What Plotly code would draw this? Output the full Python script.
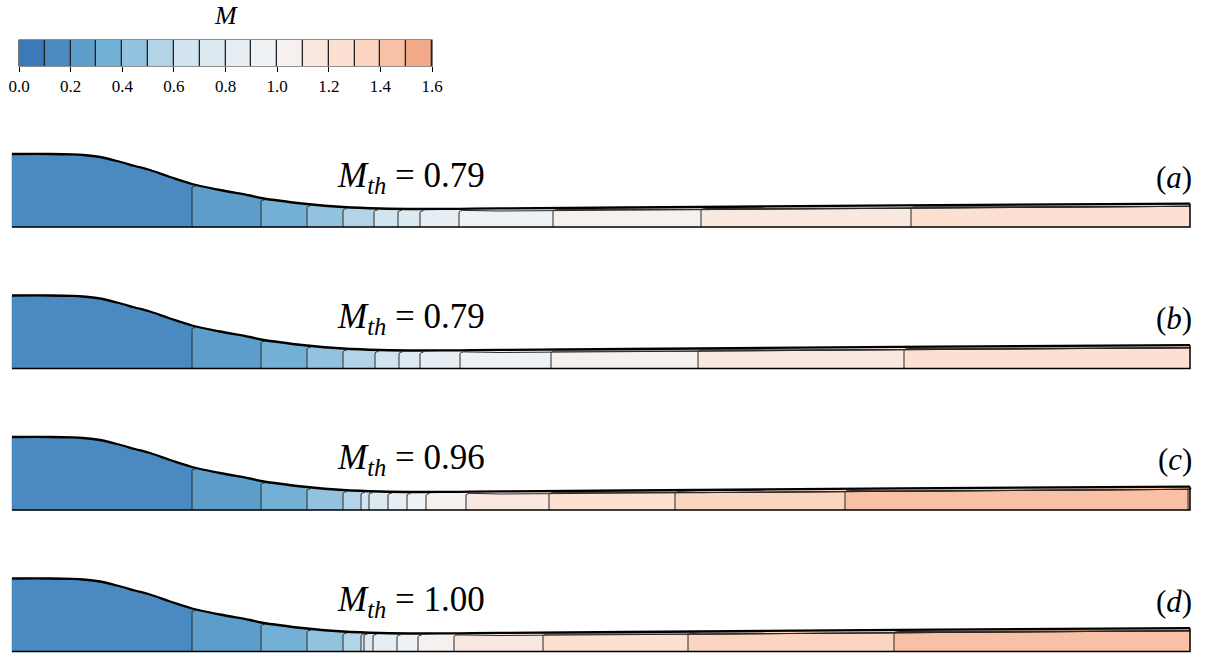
import numpy as np
import plotly.graph_objects as go

# ---------------- data ----------------
levels = [round(0.1 * i, 1) for i in range(17)]          # Mach contour levels 0.0 .. 1.6
band_colors = ["#3b7ab6", "#4a8ac0", "#5c9dca", "#72b0d5", "#92c2dd", "#b2d4e6",
               "#d2e4ef", "#dde9f1", "#e7eef3", "#eff2f5", "#f6f1ee", "#f9e8e0",
               "#fce0d1", "#fcd5c0", "#f8c0a5", "#f2a988"]
tick_vals = [0.0, 0.2, 0.4, 0.6, 0.8, 1.0, 1.2, 1.4, 1.6]
tick_text = ["0.0", "0.2", "0.4", "0.6", "0.8", "1.0", "1.2", "1.4", "1.6"]

# nozzle wall: axial position and half-height
wall_x = [0, 38, 60, 71, 88, 105, 123, 138, 158, 180, 208, 238, 249, 295, 331, 368, 408,
          448, 488, 688, 888, 1178]
wall_h = [73, 73, 72.6, 72, 70, 66, 61, 57, 50, 43, 37, 31.5, 29, 23, 20, 18.5, 18,
          18.2, 18.6, 20, 21.6, 23.3]

panel_labels = ["a", "b", "c", "d"]
mach_throat = ["0.79", "0.79", "0.96", "1.00"]
first_bin = [1, 1, 1, 1]
edges_a = [0, 180, 249, 295, 331, 362, 386, 408, 447, 541, 689, 899, 1178]
edges_b = [0, 180, 249, 295, 331, 363, 387, 408, 448, 539, 686, 892, 1178]
edges_c = [0, 180, 249, 295, 331, 349, 357, 376, 395, 414, 454, 537, 663, 833, 1176, 1178]
edges_d = [0, 180, 249, 295, 331, 349, 352, 361, 385, 406, 442, 531, 676, 882, 1178]
panel_edges = [edges_a, edges_b, edges_c, edges_d]

# ---------------- layout helpers ----------------
W, H = 1205, 655
L = wall_x[-1]
X0_PX = 12
panel_bottom_px = [227 + 141.5 * i for i in range(4)]
Y_LO, Y_HI = -3, 117


def hwall(x):
    return float(np.interp(x, wall_x, wall_h))


fig = go.Figure()
serif = "Liberation Serif, Times New Roman, serif"

for p in range(4):
    xa_name = "x" if p == 0 else f"x{p+1}"
    ya_name = "y" if p == 0 else f"y{p+1}"
    edges = panel_edges[p]
    # colour bands
    for k in range(len(edges) - 1):
        a, b = edges[k], edges[k + 1]
        inner = [(wx, wh) for wx, wh in zip(wall_x, wall_h) if a < wx < b]
        xs = [a] + [q[0] for q in inner] + [b, b, a, a]
        ys = [hwall(a)] + [q[1] for q in inner] + [hwall(b), 0, 0, hwall(a)]
        c = band_colors[first_bin[p] + k]
        fig.add_trace(go.Scatter(x=xs, y=ys, fill="toself", fillcolor=c, mode="lines",
                                 line=dict(color=c, width=0.6), hoverinfo="skip",
                                 showlegend=False, xaxis=xa_name, yaxis=ya_name))
    # contour lines between bands
    lx, ly = [], []
    for b in edges[1:-1]:
        hb = hwall(b)
        lx += [b, b, b + 1.2, b + 3.5]
        ly += [0, hb - 3.2, hb - 2.2, hwall(b + 3.5) - 1.6]
        if b > 440:
            run = [wx for wx in wall_x if wx > b + 6]
            lx += run
            ly += [hwall(wx) - 2.6 for wx in run]
        lx.append(None)
        ly.append(None)
    fig.add_trace(go.Scatter(x=lx, y=ly, mode="lines", line=dict(color="#2a2a2a", width=1),
                             hoverinfo="skip", showlegend=False, xaxis=xa_name, yaxis=ya_name))
    # outlet, axis and wall
    fig.add_trace(go.Scatter(x=[0, L, L], y=[0, 0, hwall(L)], mode="lines",
                             line=dict(color="black", width=1.5), hoverinfo="skip",
                             showlegend=False, xaxis=xa_name, yaxis=ya_name))
    fig.add_trace(go.Scatter(x=wall_x, y=wall_h, mode="lines", line=dict(color="black", width=2.3),
                             line_shape="spline", hoverinfo="skip", showlegend=False,
                             xaxis=xa_name, yaxis=ya_name))

    bpx = panel_bottom_px[p]
    dom = [1 - (bpx - Y_LO) / H, 1 - (bpx - Y_HI) / H]
    ax_common = dict(showgrid=False, zeroline=False, showticklabels=False, ticks="",
                     showline=False, fixedrange=True)
    fig.layout[("xaxis" if p == 0 else f"xaxis{p+1}")] = dict(
        domain=[(X0_PX - 2) / W, (X0_PX + L + 2) / W], range=[-2, L + 2], anchor=ya_name, **ax_common)
    fig.layout[("yaxis" if p == 0 else f"yaxis{p+1}")] = dict(
        domain=dom, range=[Y_LO, Y_HI], anchor=xa_name, **ax_common)

    text_y = 1 - (bpx - 50) / H
    fig.add_annotation(x=335 / W, y=text_y, xref="paper", yref="paper", xanchor="left",
                       yanchor="middle",
                       text=f"<i>M</i><sub><i>th</i></sub> = {mach_throat[p]}", showarrow=False,
                       font=dict(family=serif, size=35, color="black"))
    fig.add_annotation(x=1194 / W, y=text_y, xref="paper", yref="paper", xanchor="right",
                       yanchor="middle", text=f"(<i>{panel_labels[p]}</i>)", showarrow=False,
                       font=dict(family=serif, size=31, color="black"))

# ---------------- colour bar ----------------
centers = [round((levels[i] + levels[i + 1]) / 2, 3) for i in range(16)]
cscale = []
for i, c in enumerate(band_colors):
    cscale.append([i / 16, c])
    cscale.append([(i + 1) / 16, c])
fig.add_trace(go.Heatmap(x=centers, y=[0], z=[centers], colorscale=cscale, zmin=levels[0],
                         zmax=levels[-1], showscale=False, xgap=1.3, hoverinfo="skip",
                         xaxis="x5", yaxis="y5"))
fig.update_layout(
    xaxis5=dict(domain=[19 / W, 432 / W], range=[levels[0], levels[-1]], anchor="y5",
                tickvals=tick_vals, ticktext=tick_text, ticks="outside", ticklen=5,
                tickwidth=1, tickcolor="black", showgrid=False, zeroline=False, showline=False,
                tickfont=dict(family=serif, size=17, color="black"), fixedrange=True,
                automargin=False),
    yaxis5=dict(domain=[1 - 66 / H, 1 - 40 / H], range=[-0.5, 0.5], anchor="x5",
                showticklabels=False, showgrid=False, zeroline=False, ticks="", fixedrange=True),
)
fig.add_shape(type="rect", xref="x5 domain", yref="y5 domain", x0=0, x1=1, y0=0, y1=1,
              fillcolor="#222222", line=dict(color="#222222", width=1.2), layer="below")
fig.add_annotation(x=0.5, y=1 - 16 / H, xref="x5 domain", yref="paper", text="<i>M</i>",
                   showarrow=False, xanchor="center", yanchor="middle",
                   font=dict(family=serif, size=26, color="black"))

fig.update_layout(width=W, height=H, margin=dict(l=0, r=0, t=0, b=0, autoexpand=False),
                  autosize=False, paper_bgcolor="white", plot_bgcolor="white", showlegend=False)

fig.write_html("out.html", config={"displayModeBar": False, "responsive": False},
               post_script="document.body.style.margin='0';document.body.style.overflow='hidden';")
